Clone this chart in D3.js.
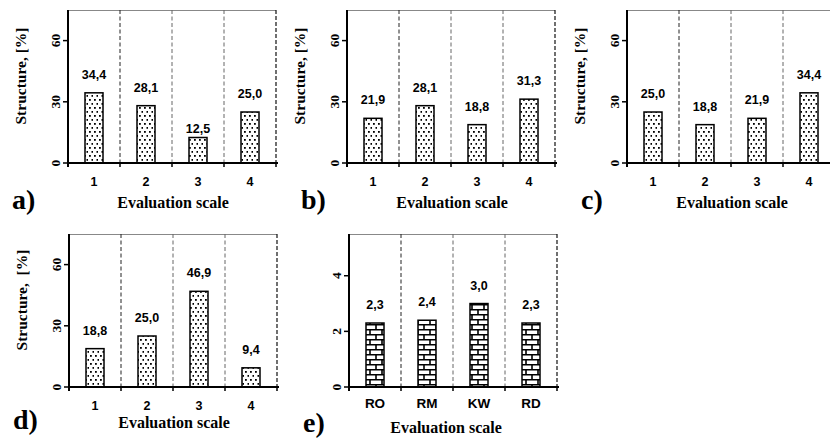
<!DOCTYPE html>
<meta charset="utf-8">
<head>
    <style>
        body, html {
            margin: 0;
            background: white;
            width: 100%;
            height: 100%;
            overflow: hidden;
        }
        .val, .xlab {
            font-family: "Liberation Sans", Arial, sans-serif;
            font-weight: bold;
            font-size: 12.5px;
            text-anchor: middle;
        }
    </style>
    <script src="https://cdnjs.cloudflare.com/ajax/libs/d3/7.8.5/d3.min.js"></script>
</head>
<body>
<script>
    // data
    var scaleCats = ["1", "2", "3", "4"];
    var criteriaCats = ["RO", "RM", "KW", "RD"];
    var valuesA = [34.4, 28.1, 12.5, 25.0];
    var valuesB = [21.9, 28.1, 18.8, 31.3];
    var valuesC = [25.0, 18.8, 21.9, 34.4];
    var valuesD = [18.8, 25.0, 46.9, 9.4];
    var valuesE = [2.3, 2.4, 3.0, 2.3];
    var pctTicks = [0, 30, 60];
    var meanTicks = [0, 2, 4];

    var W = 830, H = 443;
    var pw = 208, ph = 153;

    var panels = [
        {id: "a", x: 68,  y: 10,  cats: scaleCats,    vals: valuesA, max: 75,  ticks: pctTicks,  fill: "url(#dots)",   yTitle: "Structure, [%]", nudge: [0, 0, 9, 0]},
        {id: "b", x: 347, y: 10,  cats: scaleCats,    vals: valuesB, max: 75,  ticks: pctTicks,  fill: "url(#dots)",   yTitle: "Structure, [%]"},
        {id: "c", x: 627, y: 10,  cats: scaleCats,    vals: valuesC, max: 75,  ticks: pctTicks,  fill: "url(#dots)",   yTitle: "Structure, [%]"},
        {id: "d", x: 69,  y: 234, cats: scaleCats,    vals: valuesD, max: 75,  ticks: pctTicks,  fill: "url(#dots)",   yTitle: "Structure,  [%]"},
        {id: "e", x: 349, y: 234, cats: criteriaCats, vals: valuesE, max: 5.5, ticks: meanTicks, fill: "url(#bricks)", yTitle: null, titleShift: -8, titleDrop: 5}
    ];

    var fmt = function (v) { return d3.format(".1f")(v).replace(".", ","); };
    var serifFont = "Liberation Serif, Times New Roman, serif";

    var svg = d3.select("body").append("svg")
        .attr("width", W)
        .attr("height", H);

    var defs = svg.append("defs");

    // dotted fill
    var dots = defs.append("pattern")
        .attr("id", "dots")
        .attr("patternUnits", "userSpaceOnUse")
        .attr("width", 5)
        .attr("height", 8);
    dots.append("rect").attr("width", 5).attr("height", 8).attr("fill", "white");
    dots.append("rect").attr("x", 1).attr("y", 1).attr("width", 1.8).attr("height", 1.8).attr("fill", "black");
    dots.append("rect").attr("x", 3.5).attr("y", 5).attr("width", 1.8).attr("height", 1.8).attr("fill", "black");

    // brick fill
    var bricks = defs.append("pattern")
        .attr("id", "bricks")
        .attr("patternUnits", "userSpaceOnUse")
        .attr("width", 12)
        .attr("height", 10);
    bricks.append("rect").attr("width", 12).attr("height", 10).attr("fill", "white");
    bricks.append("path")
        .attr("d", "M0,0.7H12M0,5.7H12M3,0V5.7M9,5.7V10")
        .attr("stroke", "black")
        .attr("stroke-width", 1.6)
        .attr("fill", "none");

    function serifText(sel, size) {
        return sel.attr("font-family", serifFont)
            .attr("font-weight", "bold")
            .attr("font-size", size);
    }

    panels.forEach(function (p) {
        var g = svg.append("g").attr("transform", "translate(" + p.x + "," + p.y + ")");

        var x = d3.scaleBand().domain(p.cats).range([0, pw]);
        var y = d3.scaleLinear().domain([0, p.max]).range([ph, 0]);
        var bw = 18;

        // frame
        g.append("line").attr("x1", 0).attr("x2", pw).attr("y1", 0.5).attr("y2", 0.5)
            .attr("stroke", "#888").attr("stroke-width", 1);
        g.append("line").attr("x1", pw).attr("x2", pw).attr("y1", 0).attr("y2", ph)
            .attr("stroke", "#111").attr("stroke-width", 1.2).attr("stroke-dasharray", "4,2");

        // dashed separators
        g.selectAll(".sep")
            .data(p.cats.slice(1))
            .enter().append("line")
            .attr("class", "sep")
            .attr("x1", function (d) { return x(d); })
            .attr("x2", function (d) { return x(d); })
            .attr("y1", 0).attr("y2", ph)
            .attr("stroke", function (d, i) { return i == 0 ? "#222" : "#666"; })
            .attr("stroke-width", 1)
            .attr("stroke-dasharray", "4,2.5");

        // bars
        g.selectAll(".bar")
            .data(p.vals)
            .enter().append("rect")
            .attr("class", "bar")
            .attr("x", function (d, i) { return x(p.cats[i]) + x.bandwidth() / 2 - bw / 2; })
            .attr("y", function (d) { return y(d); })
            .attr("width", bw)
            .attr("height", function (d) { return ph - y(d); })
            .attr("fill", p.fill)
            .attr("stroke", "black")
            .attr("stroke-width", 1.5);

        // value labels
        g.selectAll(".val")
            .data(p.vals)
            .enter().append("text")
            .attr("class", "val")
            .attr("x", function (d, i) { return x(p.cats[i]) + x.bandwidth() / 2; })
            .attr("y", function (d, i) { return y(d) - 14 + (p.nudge ? p.nudge[i] : 0); })
            .text(fmt);

        // x axis: ticks at category boundaries
        var bounds = p.cats.map(function (c) { return x(c); }).concat([pw]);
        g.append("line").attr("x1", -1).attr("x2", pw + 2).attr("y1", ph).attr("y2", ph)
            .attr("stroke", "black").attr("stroke-width", 2);
        g.selectAll(".xtick")
            .data(bounds)
            .enter().append("line")
            .attr("x1", function (d) { return d; })
            .attr("x2", function (d) { return d; })
            .attr("y1", ph).attr("y2", ph + 4)
            .attr("stroke", "black").attr("stroke-width", 1.5);
        g.selectAll(".xlab")
            .data(p.cats)
            .enter().append("text")
            .attr("class", "xlab")
            .attr("x", function (d) { return x(d) + x.bandwidth() / 2; })
            .attr("y", ph + (p.id == "e" ? 21 : 23))
            .style("font-size", p.id == "e" ? "13.5px" : "12.5px")
            .text(function (d) { return d; });

        // y axis
        g.append("line").attr("x1", 0).attr("x2", 0).attr("y1", 0).attr("y2", ph + 4)
            .attr("stroke", "black").attr("stroke-width", 2);
        g.selectAll(".ytick")
            .data(p.ticks)
            .enter().append("line")
            .attr("x1", -5).attr("x2", 0)
            .attr("y1", function (d) { return y(d); })
            .attr("y2", function (d) { return y(d); })
            .attr("stroke", "black").attr("stroke-width", 1.5);
        serifText(g.selectAll(".ylab")
            .data(p.ticks)
            .enter().append("text"), 13.5)
            .attr("transform", function (d) { return "translate(-8.5," + y(d) + ") rotate(-90)"; })
            .attr("text-anchor", "middle")
            .text(function (d) { return d; });

        if (p.yTitle) {
            serifText(g.append("text"), 15.5)
                .attr("transform", "translate(-42," + 66 + ") rotate(-90)")
                .attr("text-anchor", "middle")
                .style("white-space", "pre")
                .text(p.yTitle);
        }

        // x title
        serifText(g.append("text"), 16)
            .attr("x", pw / 2 + 1 + (p.titleShift || 0))
            .attr("y", ph + 45 - (p.y > 100 ? 4 : 0) + (p.titleDrop || 0))
            .attr("text-anchor", "middle")
            .text("Evaluation scale");

        // panel letter
        serifText(g.append("text"), 28)
            .attr("x", p.id == "a" || p.id == "d" ? -56 : -46)
            .attr("y", ph + 46 - (p.y > 100 ? 4 : 0) + (p.id == "e" ? 3 : 0))
            .text(p.id + ")");
    });
</script>
</body>
